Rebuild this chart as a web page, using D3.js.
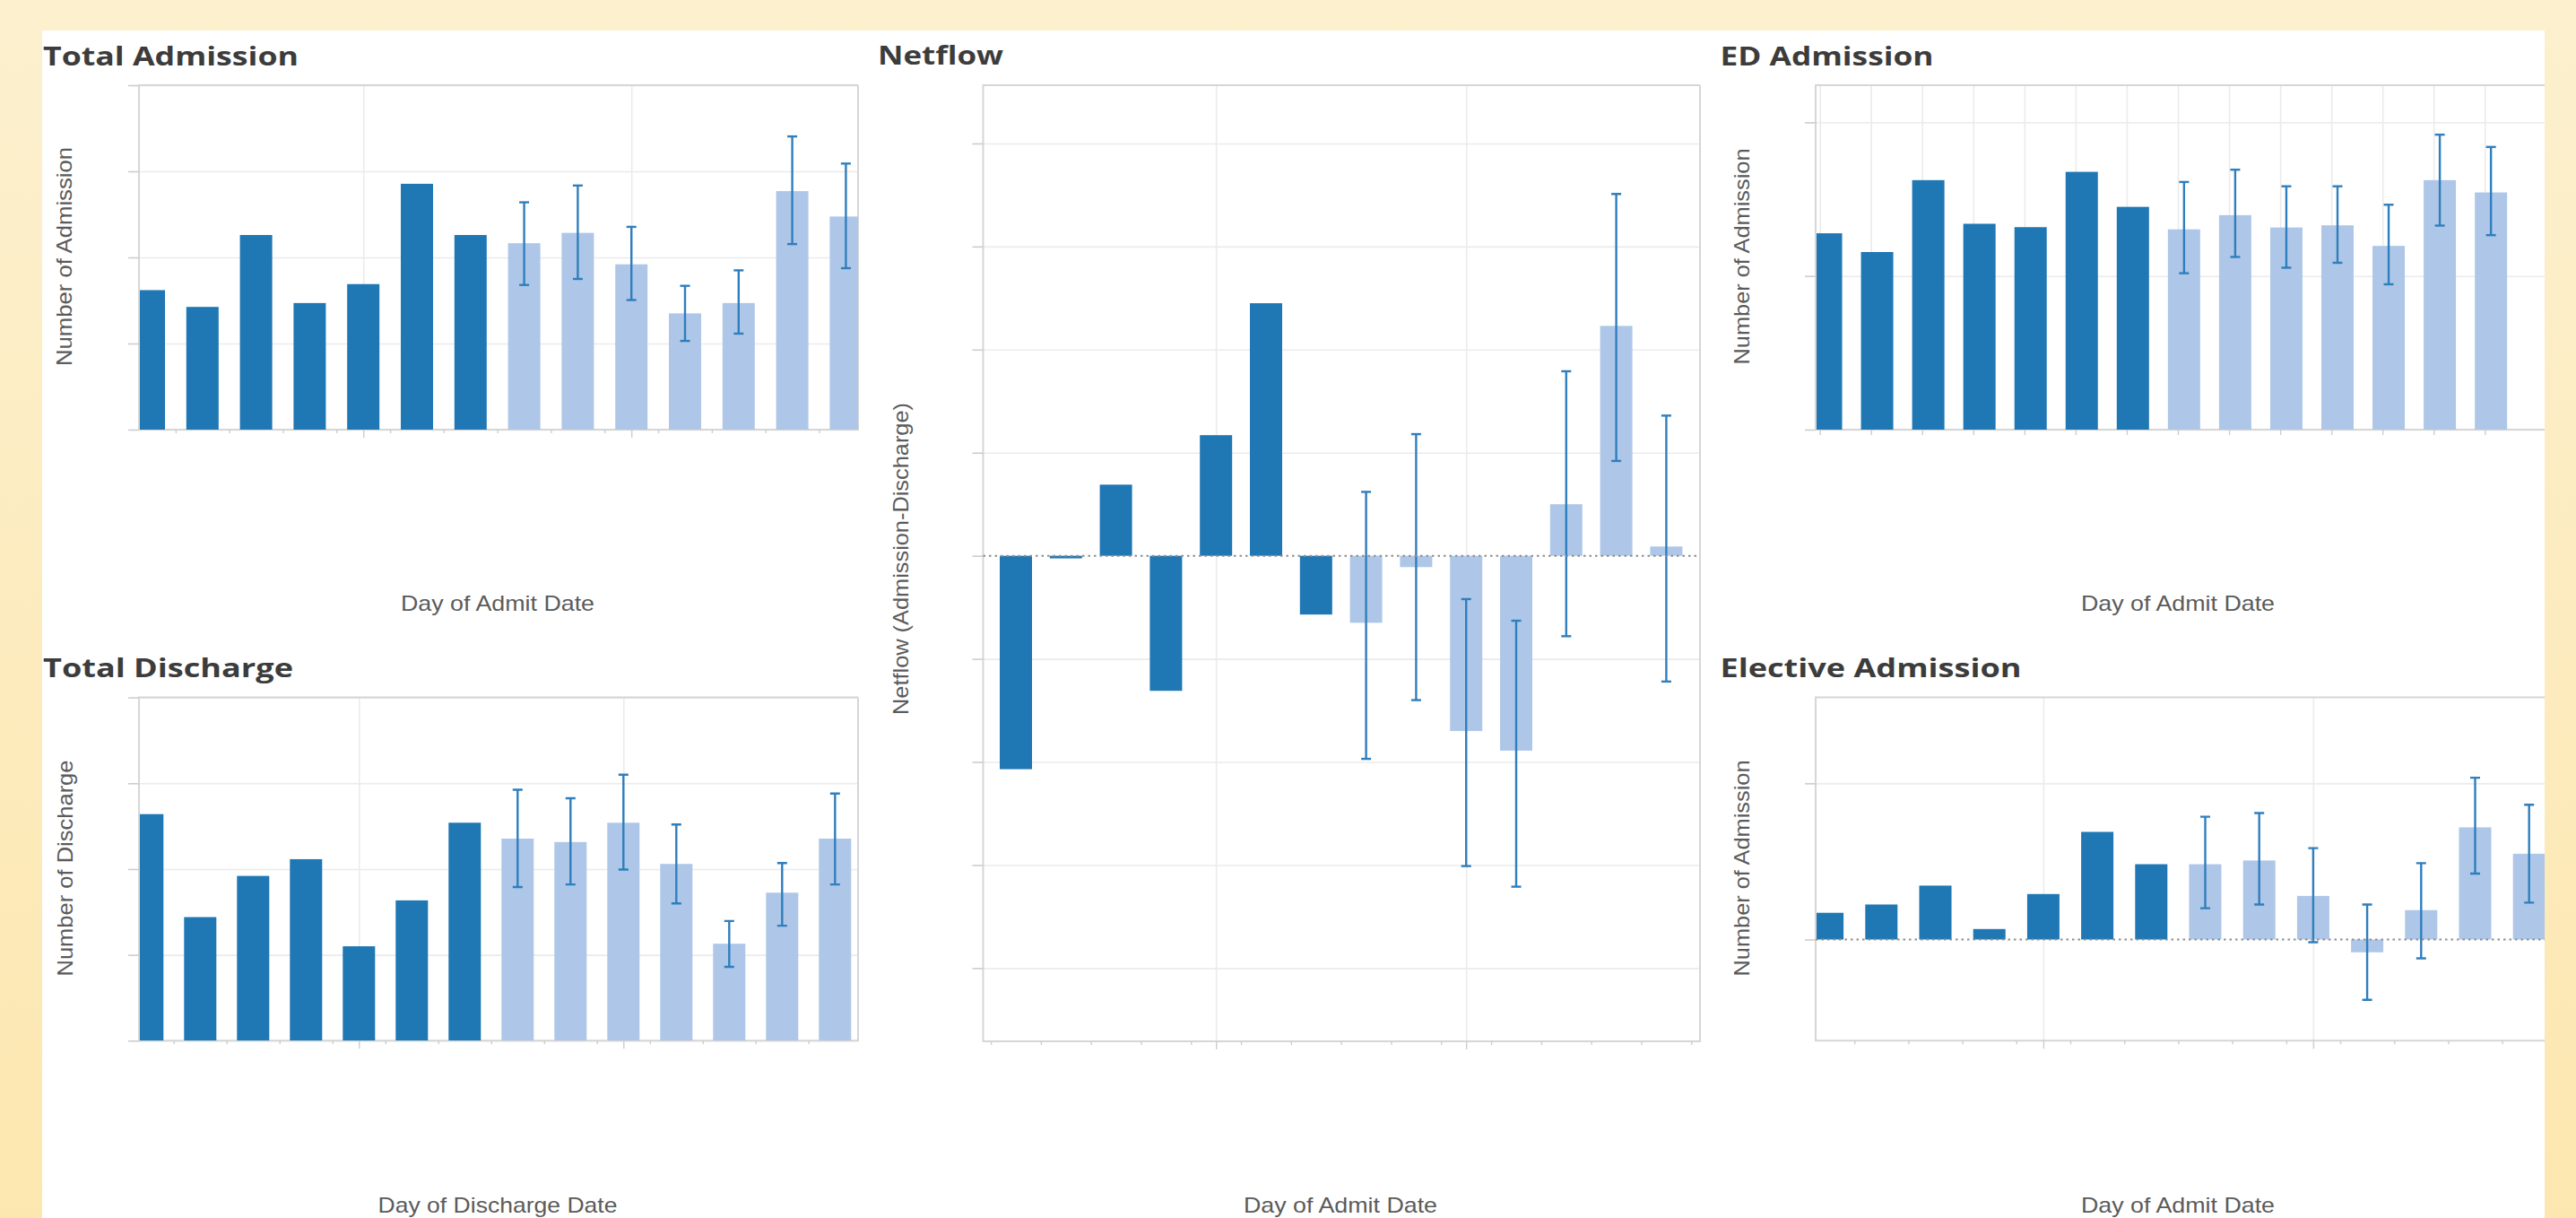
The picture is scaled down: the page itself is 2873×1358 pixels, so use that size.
<!DOCTYPE html>
<html>
<head>
<meta charset="utf-8">
<script src="https://cdn.jsdelivr.net/npm/d3@7"></script>
<style>
  html, body { margin: 0; padding: 0; background: #fdecbf; }
  svg { display: block; }
</style>
</head>
<body>
<svg id="dash" width="2873" height="1358"></svg>
<script>
// Hospital flow dashboard: 7 observed days followed by a 7-day forecast with intervals.
const days = [1, 2, 3, 4, 5, 6, 7, 8, 9, 10, 11, 12, 13, 14];
const observedDays = days.slice(0, 7);
const forecastDays = days.slice(7);

// Total admissions
const admissionObserved = [212.4, 208.5, 225.2, 209.4, 213.8, 237.1, 225.2];
const admissionForecast = [223.3, 225.7, 218.4, 207.0, 209.4, 235.4, 229.5];
const admissionLow      = [213.6, 215.0, 210.1, 200.6, 202.3, 223.1, 217.5];
const admissionHigh     = [232.8, 236.7, 227.1, 213.4, 217.0, 248.1, 241.8];

// Total discharges
const dischargeObserved = [232.8, 208.8, 218.4, 222.3, 202.0, 212.7, 230.8];
const dischargeForecast = [227.1, 226.3, 230.8, 221.2, 202.6, 214.5, 227.1];
const dischargeLow      = [215.8, 216.4, 219.9, 212.0, 197.2, 206.8, 216.4];
const dischargeHigh     = [238.5, 236.5, 242.0, 230.4, 207.9, 221.4, 237.6];

// Netflow = admissions - discharges
const netflowObserved = [-20.7, -0.25, 6.9, -13.1, 11.7, 24.5, -5.7];
const netflowForecast = [-6.5, -1.1, -17.0, -18.9, 5.0, 22.3, 0.9];
const netflowLow      = [-19.7, -14.0, -30.1, -32.1, -7.8, 9.2, -12.2];
const netflowHigh     = [6.2, 11.8, -4.2, -6.3, 17.9, 35.1, 13.6];

// ED admissions
const edObserved = [63.9, 57.8, 81.2, 67.0, 65.9, 83.9, 72.5];
const edForecast = [65.2, 69.8, 65.8, 66.5, 59.8, 81.2, 77.2];
const edLow      = [50.9, 56.2, 52.7, 54.3, 47.3, 66.4, 63.3];
const edHigh     = [80.6, 84.6, 79.2, 79.2, 73.2, 96.0, 92.0];

// Elective admissions
const electiveObserved = [1.71, 2.24, 3.45, 0.67, 2.91, 6.89, 4.82];
const electiveForecast = [4.82, 5.06, 2.79, -0.82, 1.88, 7.18, 5.49];
const electiveLow      = [2.0, 2.24, -0.17, -3.86, -1.21, 4.22, 2.36];
const electiveHigh     = [7.86, 8.1, 5.85, 2.24, 4.89, 10.36, 8.63];

// Hidden value axes: gridline values and visible ranges
const admissionGrid = [180, 200, 220, 240, 260];
const dischargeGrid = [180, 200, 220, 240, 260];
const netflowGrid   = [-40, -30, -20, -10, 0, 10, 20, 30, 40];
const edGrid        = [0, 50, 100];
const electiveGrid  = [0, 10];

const DARK = "#1f77b4", LIGHT = "#aec7e8", ERR = "#2f7ebd";
const GRID = "#ebebeb", FRAME = "#d6d6d6", TICK = "#cdcdcd";
const PANEL = { left: 47, right: 2838, top: 34 };

const charts = [
  { title: "Total Admission", yLabel: "Number of Admission", xLabel: "Day of Admit Date",
    observed: admissionObserved, forecast: admissionForecast, low: admissionLow, high: admissionHigh,
    yDomain: [180, 260], yGrid: admissionGrid, zeroLine: false, dailyGrid: false,
    frame: { left: 155, right: 957, top: 95, bottom: 479 }, firstCenter: 166, step: 59.8,
    titleX: 48, titleY: 73, titleLen: 285,
    yLabelX: 80, yLabelY: 286, yLabelLen: 244, xLabelX: 555, xLabelY: 681, xLabelLen: 216 },
  { title: "Total Discharge", yLabel: "Number of Discharge", xLabel: "Day of Discharge Date",
    observed: dischargeObserved, forecast: dischargeForecast, low: dischargeLow, high: dischargeHigh,
    yDomain: [180, 260], yGrid: dischargeGrid, zeroLine: false, dailyGrid: false,
    frame: { left: 155, right: 957, top: 777.6, bottom: 1160.3 }, firstCenter: 164.3, step: 59.0,
    titleX: 48, titleY: 755, titleLen: 279,
    yLabelX: 81, yLabelY: 968, yLabelLen: 241, xLabelX: 555, xLabelY: 1352, xLabelLen: 267 },
  { title: "Netflow", yLabel: "Netflow (Admission-Discharge)", xLabel: "Day of Admit Date",
    observed: netflowObserved, forecast: netflowForecast, low: netflowLow, high: netflowHigh,
    yDomain: [-47.1, 45.65], yGrid: netflowGrid, zeroLine: true, dailyGrid: false,
    frame: { left: 1096.5, right: 1896, top: 95, bottom: 1161 }, firstCenter: 1133, step: 55.8,
    titleX: 979, titleY: 72, titleLen: 140,
    yLabelX: 1013, yLabelY: 623, yLabelLen: 348, xLabelX: 1495, xLabelY: 1352, xLabelLen: 216 },
  { title: "ED Admission", yLabel: "Number of Admission", xLabel: "Day of Admit Date",
    observed: edObserved, forecast: edForecast, low: edLow, high: edHigh,
    yDomain: [0, 112.1], yGrid: edGrid, zeroLine: false, dailyGrid: true,
    frame: { left: 2025, right: 2838, top: 95, bottom: 479 }, firstCenter: 2036.5, step: 57.05,
    titleX: 1918.5, titleY: 72.5, titleLen: 238,
    yLabelX: 1951, yLabelY: 286, yLabelLen: 241, xLabelX: 2429, xLabelY: 681, xLabelLen: 216 },
  { title: "Elective Admission", yLabel: "Number of Admission", xLabel: "Day of Admit Date",
    observed: electiveObserved, forecast: electiveForecast, low: electiveLow, high: electiveHigh,
    yDomain: [-6.48, 15.5], yGrid: electiveGrid, zeroLine: true, dailyGrid: false,
    frame: { left: 2025, right: 2838, top: 777.6, bottom: 1160.3 }, firstCenter: 2038.1, step: 60.2,
    titleX: 1918.5, titleY: 755, titleLen: 336,
    yLabelX: 1951, yLabelY: 968, yLabelLen: 241, xLabelX: 2429, xLabelY: 1352, xLabelLen: 216 }
];

const svg = d3.select("#dash");
const W = +svg.attr("width"), H = +svg.attr("height");
const defs = svg.append("defs");

const grad = defs.append("linearGradient").attr("id", "backdrop")
  .attr("x1", 0).attr("y1", 0).attr("x2", 0).attr("y2", 1);
grad.append("stop").attr("offset", "0%").attr("stop-color", "#fcf0ce");
grad.append("stop").attr("offset", "100%").attr("stop-color", "#fde7b0");
svg.append("rect").attr("width", W).attr("height", H).attr("fill", "url(#backdrop)");

defs.append("clipPath").attr("id", "panel-clip").append("rect")
  .attr("x", PANEL.left).attr("y", PANEL.top)
  .attr("width", PANEL.right - PANEL.left).attr("height", H - PANEL.top);

const root = svg.append("g").attr("clip-path", "url(#panel-clip)");
root.append("rect")
  .attr("x", PANEL.left).attr("y", PANEL.top)
  .attr("width", PANEL.right - PANEL.left).attr("height", H - PANEL.top)
  .attr("fill", "#ffffff");

const BAR_W = 36, CAP_W = 11;

charts.forEach((c, ci) => {
  const f = c.frame;
  const x = d3.scaleLinear().domain([1, 14]).range([c.firstCenter, c.firstCenter + 13 * c.step]);
  const y = d3.scaleLinear().domain(c.yDomain).range([f.bottom, f.top]);
  const base = c.yDomain[0] <= 0 && c.yDomain[1] >= 0 ? 0 : c.yDomain[0];
  const g = root.append("g");

  // date gridlines: every day on ED, otherwise at day 5 and day 10
  const vGrid = c.dailyGrid ? days.map(d => d - 0.12) : [5, 10];
  const inX = v => x(v) >= f.left - 0.5 && x(v) <= f.right + 0.5;

  // horizontal gridlines
  g.append("g").attr("transform", `translate(${f.left},0)`)
    .call(d3.axisLeft(y).tickValues(c.yGrid.filter(v => !(c.zeroLine && v === 0)))
      .tickSize(-(f.right - f.left)).tickFormat(""))
    .call(s => s.select(".domain").remove())
    .call(s => s.selectAll("line").attr("stroke", GRID).attr("stroke-width", 1.6));

  // vertical gridlines
  g.append("g").attr("transform", `translate(0,${f.bottom})`)
    .call(d3.axisBottom(x).tickValues(vGrid.filter(inX)).tickSize(-(f.bottom - f.top)).tickFormat(""))
    .call(s => s.select(".domain").remove())
    .call(s => s.selectAll("line").attr("stroke", GRID).attr("stroke-width", 1.6));

  // frame
  const rightEdge = f.right < PANEL.right - 2;
  const framePath = d3.path();
  framePath.moveTo(rightEdge ? f.right : PANEL.right + 5, f.top);
  framePath.lineTo(f.left, f.top);
  framePath.lineTo(f.left, f.bottom);
  framePath.lineTo(rightEdge ? f.right : PANEL.right + 5, f.bottom);
  if (rightEdge) framePath.lineTo(f.right, f.top);
  g.append("path").attr("d", framePath.toString())
    .attr("fill", "none").attr("stroke", FRAME).attr("stroke-width", 2);

  // value-axis ticks (labels hidden)
  g.append("g").attr("transform", `translate(${f.left},0)`)
    .call(d3.axisLeft(y).tickValues(c.yGrid).tickSize(12).tickFormat(""))
    .call(s => s.select(".domain").remove())
    .call(s => s.selectAll("line").attr("stroke", TICK).attr("stroke-width", 1.6));

  // date-axis ticks
  if (c.dailyGrid) {
    g.append("g").attr("transform", `translate(0,${f.bottom})`)
      .call(d3.axisBottom(x).tickValues(vGrid.filter(inX)).tickSize(6).tickFormat(""))
      .call(s => s.select(".domain").remove())
      .call(s => s.selectAll("line").attr("stroke", TICK).attr("stroke-width", 1.4));
  } else {
    const bounds = d3.range(0, 15).map(d => d + 0.5).filter(inX);
    g.append("g").attr("transform", `translate(0,${f.bottom})`)
      .call(d3.axisBottom(x).tickValues(bounds).tickSize(4).tickFormat(""))
      .call(s => s.select(".domain").remove())
      .call(s => s.selectAll("line").attr("stroke", TICK).attr("stroke-width", 1.4));
    g.append("g").attr("transform", `translate(0,${f.bottom})`)
      .call(d3.axisBottom(x).tickValues([5, 10]).tickSize(9).tickFormat(""))
      .call(s => s.select(".domain").remove())
      .call(s => s.selectAll("line").attr("stroke", TICK).attr("stroke-width", 1.4));
  }

  // bars, clipped to the plot frame
  const clipId = "plot-clip-" + ci;
  defs.append("clipPath").attr("id", clipId).append("rect")
    .attr("x", f.left + 1).attr("y", f.top).attr("width", f.right - f.left - 1).attr("height", f.bottom - f.top);
  const plot = g.append("g").attr("clip-path", `url(#${clipId})`);

  const rows = observedDays.map((d, i) => ({ day: d, v: c.observed[i], kind: "obs" }))
    .concat(forecastDays.map((d, i) => ({ day: d, v: c.forecast[i], lo: c.low[i], hi: c.high[i], kind: "fc" })));

  plot.selectAll("rect.bar").data(rows).join("rect")
    .attr("class", "bar")
    .attr("x", d => x(d.day) - BAR_W / 2)
    .attr("width", BAR_W)
    .attr("y", d => y(Math.max(d.v, base)))
    .attr("height", d => Math.abs(y(d.v) - y(base)))
    .attr("fill", d => d.kind === "obs" ? DARK : LIGHT);

  // forecast intervals
  const fc = rows.filter(d => d.kind === "fc");
  const eb = plot.selectAll("g.err").data(fc).join("g").attr("class", "err")
    .attr("stroke", ERR).attr("stroke-width", 2.4);
  eb.append("line").attr("x1", d => x(d.day)).attr("x2", d => x(d.day))
    .attr("y1", d => y(d.lo)).attr("y2", d => y(d.hi));
  eb.append("line").attr("x1", d => x(d.day) - CAP_W / 2).attr("x2", d => x(d.day) + CAP_W / 2)
    .attr("y1", d => y(d.hi)).attr("y2", d => y(d.hi));
  eb.append("line").attr("x1", d => x(d.day) - CAP_W / 2).attr("x2", d => x(d.day) + CAP_W / 2)
    .attr("y1", d => y(d.lo)).attr("y2", d => y(d.lo));

  // dotted zero reference line
  if (c.zeroLine) {
    g.append("line")
      .attr("x1", f.left).attr("x2", rightEdge ? f.right : PANEL.right)
      .attr("y1", y(0)).attr("y2", y(0))
      .attr("stroke", "#8d8d8d").attr("stroke-width", 2).attr("stroke-dasharray", "2.5 4");
  }

  // titles and axis labels
  g.append("text")
    .attr("x", c.titleX).attr("y", c.titleY)
    .attr("textLength", c.titleLen).attr("lengthAdjust", "spacingAndGlyphs")
    .style("font-family", "'Open Sans', 'DejaVu Sans', sans-serif")
    .style("font-weight", 700).style("font-size", "29px").attr("fill", "#3c3c3c")
    .text(c.title);

  g.append("text")
    .attr("transform", `translate(${c.yLabelX},${c.yLabelY}) rotate(-90)`)
    .attr("text-anchor", "middle")
    .attr("textLength", c.yLabelLen).attr("lengthAdjust", "spacingAndGlyphs")
    .style("font-family", "'Liberation Sans', Arial, sans-serif")
    .style("font-size", "24px").attr("fill", "#5b5b5b")
    .text(c.yLabel);

  g.append("text")
    .attr("x", c.xLabelX).attr("y", c.xLabelY)
    .attr("text-anchor", "middle")
    .attr("textLength", c.xLabelLen).attr("lengthAdjust", "spacingAndGlyphs")
    .style("font-family", "'Liberation Sans', Arial, sans-serif")
    .style("font-size", "24px").attr("fill", "#5b5b5b")
    .text(c.xLabel);
});
</script>
</body>
</html>
